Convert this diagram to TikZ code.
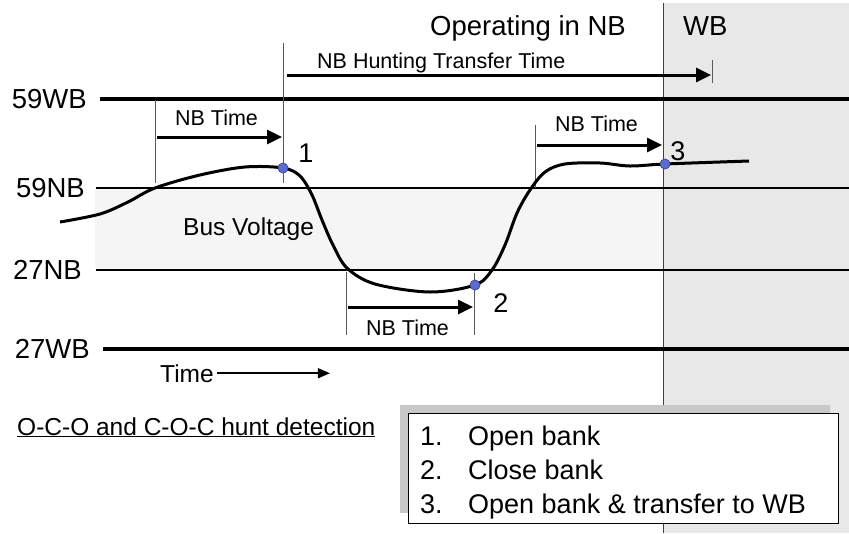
\documentclass[tikz,border=0pt]{standalone}
\usepackage{fontspec}
\setmainfont{Liberation Sans}
\usetikzlibrary{positioning,arrows.meta}

\definecolor{wbgray}{HTML}{E8E8E8}
\definecolor{bandgray}{HTML}{F5F5F5}
\definecolor{shadowgray}{HTML}{C8C8C8}
\definecolor{dotblue}{HTML}{5B6BD0}

\tikzset{
    limit/.style={line width=3.5pt},
    band/.style={line width=1.8pt},
    marker/.style={line width=1pt, draw=black!65},
    timearrow/.style={line width=3pt, -{Triangle[length=15pt,width=14pt]}},
    timeline/.style={line width=1.5pt, -{Triangle[length=12pt,width=10pt]}},
    axislbl/.style={font=\fontsize{27.5}{32}\selectfont, inner sep=0pt},
    tlbl/.style={font=\fontsize{21.5}{26}\selectfont, inner sep=0pt},
    txt/.style={font=\fontsize{24.5}{29}\selectfont, inner sep=0pt},
    numlbl/.style={font=\fontsize{27}{32}\selectfont, inner sep=0pt},
    event/.style={circle, fill=dotblue, draw=dotblue!70!black, line width=0.6pt,
                  minimum size=10pt, inner sep=0pt},
}

\begin{document}
\begin{tikzpicture}[x=1pt,y=-1pt]
    \useasboundingbox (0,0) rectangle (849,533);
    \coordinate (right) at (849,0);

    % regions
    \coordinate (wb top) at (663,3);
    \coordinate (wb bot) at (663,533);
    \fill[wbgray] (wb top) rectangle (849,533);
    \fill[bandgray] (95,188) rectangle (663,270);
    \draw[marker, draw=black!75] (wb top) -- (wb bot);

    % limits
    \node[axislbl, anchor=east] (59wb) at (87,99) {59WB};
    \node[axislbl, anchor=east] (59nb) at (85,188) {59NB};
    \node[axislbl, anchor=east] (27nb) at (82,270) {27NB};
    \node[axislbl, anchor=east] (27wb) at (90,349) {27WB};
    \draw[limit] ([xshift=13pt]59wb.east) -- (59wb -| right);
    \draw[band] ([xshift=11pt]59nb.east) -- (59nb -| right);
    \draw[band] ([xshift=14pt]27nb.east) -- (27nb -| right);
    \draw[limit] ([xshift=13pt]27wb.east) -- (27wb -| right);

    % events
    \node[event] (p1) at (283,168) {};
    \node[event] (p2) at (475,285) {};
    \node[event] (p3) at (665,164) {};

    % time marks
    \coordinate (m0 top) at (155,100);  \coordinate (m0 bot) at (155,183);
    \coordinate (m1 top) at (283,43);   \coordinate (m1 bot) at (283,183);
    \coordinate (m2 top) at (346,272);  \coordinate (m2 bot) at (346,335);
    \coordinate (m3 top) at (474,273);  \coordinate (m3 bot) at (474,335);
    \coordinate (m4 top) at (535,125);  \coordinate (m4 bot) at (535,188);
    \coordinate (m5 top) at (712,60);   \coordinate (m5 bot) at (712,83);
    \foreach \m in {m0,m1,m2,m3,m4,m5}
        \draw[marker] (\m\space top) -- (\m\space bot);

    % bus voltage
    \draw[line width=3pt, line join=round] plot[smooth, tension=0.55] coordinates {
        (60,222) (100,214) (128,202) (155,188) (200,175) (245,167) (p1)
        (300,176) (312,195) (322,220) (333,245) (347,268) (375,284) (430,292)
        (p2) (492,270) (505,245) (517,213) (530,190) (545,172) (565,164)
        (600,163) (630,166) (p3) (749,161)};
    \foreach \p in {p1,p2,p3}
        \node[event] at (\p) {};

    % NB timers
    \coordinate (nb1 a) at (157,137);  \coordinate (nb1 b) at (282,137);
    \coordinate (nb2 a) at (348,307);  \coordinate (nb2 b) at (473,307);
    \coordinate (nb3 a) at (537,145);  \coordinate (nb3 b) at (662,145);
    \coordinate (hunt a) at (287,75);  \coordinate (hunt b) at (711,75);
    \draw[timearrow] (nb1 a) -- node[tlbl, above=10pt, xshift=-3pt] {NB Time} (nb1 b);
    \draw[timearrow] (nb2 a) -- node[tlbl, below=11pt, xshift=-3pt] {NB Time} (nb2 b);
    \draw[timearrow] (nb3 a) -- node[tlbl, above=12pt, xshift=-3pt] {NB Time} (nb3 b);
    \draw[timearrow] (hunt a) -- (hunt b);
    \node[tlbl, anchor=base west] (hunt lbl) at (317,68) {NB Hunting Transfer Time};

    % event numbers
    \node[numlbl, anchor=base] (n1) at ([shift={(23,-6)}]p1) {1};
    \node[numlbl, anchor=base] (n2) at ([shift={(26,27)}]p2) {2};
    \node[numlbl, anchor=base] (n3) at ([shift={(13,-4)}]p3) {3};

    % headings
    \node[axislbl, anchor=base west] (nb op) at (430,35) {Operating in NB};
    \node[axislbl, anchor=base west] (wb op) at (683,35) {WB};
    \node[txt, anchor=base west] (bus) at (183,235) {Bus Voltage};
    \node[txt, anchor=base west] (time) at (160,382) {Time};
    \draw[timeline] ([xshift=3pt]time.east) -- ([xshift=116pt]time.east);
    \node[txt, anchor=base west] (title) at (17,435) {\underline{O-C-O and C-O-C hunt detection}};

    % legend
    \fill[shadowgray] (400,405) rectangle (830,513);
    \node[draw, fill=white, line width=1pt, anchor=north west,
          minimum width=430pt, minimum height=110pt] (legend) at (408,413) {};
    \node[numlbl, anchor=base west] (item1) at (420,445) {\makebox[48pt][l]{1.}Open bank};
    \node[numlbl, anchor=base west] (item2) at (420,479) {\makebox[48pt][l]{2.}Close bank};
    \node[numlbl, anchor=base west] (item3) at (420,513) {\makebox[48pt][l]{3.}Open bank \& transfer to WB};
\end{tikzpicture}
\end{document}
